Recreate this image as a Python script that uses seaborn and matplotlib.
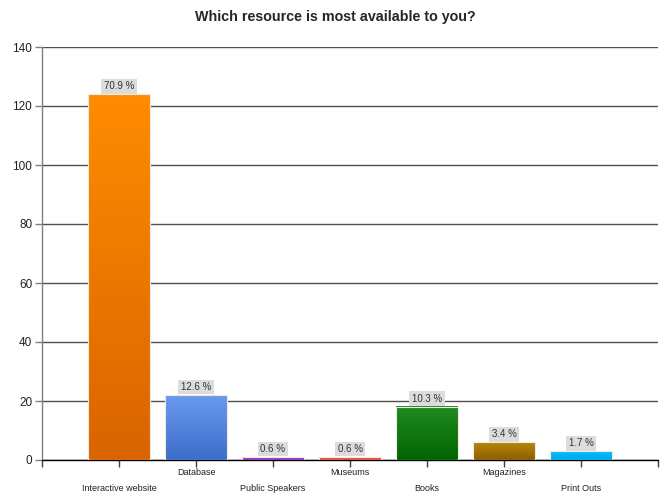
import numpy as np
import pandas as pd
import matplotlib
matplotlib.use("Agg")
import matplotlib.pyplot as plt
from matplotlib.colors import LinearSegmentedColormap
import seaborn as sns

categories = ["Interactive website", "Database", "Public Speakers", "Museums",
              "Books", "Magazines", "Print Outs"]
counts = [124, 22, 1, 1, 18, 6, 3]
top_colors = ["#FF8C00", "#6A9AEE", "#A040CC", "#EE5A3E", "#228B22", "#B8860B", "#00BFFF"]
bottom_colors = ["#D96400", "#3D6DCA", "#8E2EBE", "#DC4A30", "#006400", "#8B5E00", "#00A6EA"]
y_ticks = [0, 20, 40, 60, 80, 100, 120, 140]

total = sum(counts)
percents = [round(c / total * 100, 1) for c in counts]
df = pd.DataFrame({"category": categories, "count": counts})

sns.set_style("white")
plt.rcParams["font.family"] = ["Liberation Sans", "DejaVu Sans"]

fig = plt.figure(figsize=(6.7, 5.01), dpi=100)
ax = fig.add_axes([42 / 670, 1 - 460 / 501, 616 / 670, 413 / 501])

sns.barplot(data=df, x="category", y="count", hue="category", palette=top_colors,
            legend=False, width=0.8, ax=ax, zorder=2, saturation=1)

# vertical gradient fill on each bar
grad = np.linspace(0, 1, 256).reshape(-1, 1)
for patch, ctop, cbot in zip(ax.patches, top_colors, bottom_colors):
    x, y = patch.get_x(), patch.get_y()
    w, h = patch.get_width(), patch.get_height()
    cmap = LinearSegmentedColormap.from_list("g", [cbot, ctop])
    ax.imshow(grad, extent=[x, x + w, y, y + h], origin="lower", aspect="auto",
              cmap=cmap, zorder=3)
    patch.set_facecolor("none")
    patch.set_edgecolor("#F2E8E0")
    patch.set_linewidth(0.8)
    patch.set_zorder(4)

# percentage labels above bars
for i, (c, p) in enumerate(zip(counts, percents)):
    ax.annotate(f"{p} %", xy=(i, c), xytext=(0, 2.2), textcoords="offset points",
                ha="center", va="bottom", fontsize=7, color="#333333",
                bbox=dict(boxstyle="square,pad=0.25", fc="#DCDCDC", ec="none"),
                zorder=5)

ax.set_xlim(-1, 7)
ax.set_ylim(0, 140)
ax.set_yticks(y_ticks)
ax.set_yticklabels([str(t) for t in y_ticks], fontsize=8.5, color="#222222")
ax.yaxis.grid(True, color="#505050", linewidth=1, zorder=0)
ax.set_axisbelow(True)

xt = list(range(-1, 8))
xl = [""] + [("\n" + c) if i % 2 == 0 else c for i, c in enumerate(categories)] + [""]
ax.set_xticks(xt)
ax.set_xticklabels(xl, fontsize=6.5, color="#222222", linespacing=2.05)
ax.tick_params(axis="x", bottom=True, length=5, color="#404040", width=1, pad=0.5)
ax.tick_params(axis="y", left=True, length=5, color="#808080", width=1, pad=2)

for s in ["top", "right"]:
    ax.spines[s].set_visible(False)
ax.spines["left"].set_color("#808080")
ax.spines["left"].set_linewidth(1)
ax.spines["bottom"].set_color("#000000")
ax.spines["bottom"].set_linewidth(1)
ax.set_xlabel("")
ax.set_ylabel("")

fig.text(0.5, 1 - 17 / 501, "Which resource is most available to you?",
         ha="center", va="center", fontsize=10.3, fontweight="bold")

fig.savefig("out.png", dpi=100)
